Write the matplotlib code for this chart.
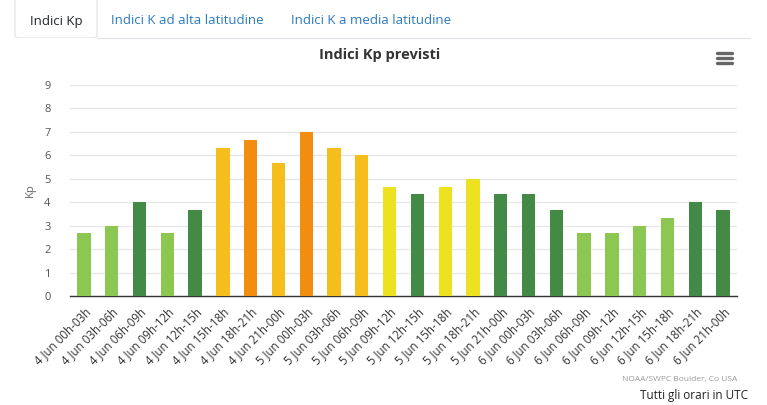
import matplotlib.pyplot as plt
import numpy as np
from matplotlib.patches import Rectangle, FancyBboxPatch
from matplotlib.lines import Line2D

plt.rcParams['font.family'] = ['Open Sans', 'DejaVu Sans']

# dati Kp previsti (3 ore)
intervalli = ['00h-03h', '03h-06h', '06h-09h', '09h-12h',
              '12h-15h', '15h-18h', '18h-21h', '21h-00h']
giorni = ['4 Jun', '5 Jun', '6 Jun']
etichette = [g + ' ' + i for g in giorni for i in intervalli]
kp = [2.67, 3.00, 4.00, 2.67, 3.67, 6.33, 6.67, 5.67,
      7.00, 6.33, 6.00, 4.67, 4.33, 4.67, 5.00, 4.33,
      4.33, 3.67, 2.67, 2.67, 3.00, 3.33, 4.00, 3.67]
tab_labels = ['Indici Kp', 'Indici K ad alta latitudine', 'Indici K a media latitudine']


def colore(v):
    if v < 3.5:
        return '#8cc751'
    if v < 4.5:
        return '#438a47'
    if v < 5.5:
        return '#ece21f'
    if v < 6.5:
        return '#f5be1c'
    return '#f28d10'


fig = plt.figure(figsize=(7.67, 4.05), dpi=100)
fig.patch.set_facecolor('white')

# tabs
W, H = 767.0, 405.0
fig.add_artist(FancyBboxPatch((15 / W, 1 - 38 / H), 82 / W, 40 / H, transform=fig.transFigure,
                              boxstyle='round,pad=0,rounding_size=0.006',
                              facecolor='white', edgecolor='#dee2e6', lw=0.8, clip_on=False))
fig.add_artist(Rectangle((14 / W, 1 - 39 / H), 84 / W, 1.5 / H, transform=fig.transFigure,
                         facecolor='white', edgecolor='none'))
fig.add_artist(Line2D([97 / W, 750 / W], [1 - 38 / H, 1 - 38 / H], transform=fig.transFigure,
                      color='#dee2e6', lw=0.8))
fig.text(56 / W, 1 - 21 / H, tab_labels[0], ha='center', va='center', fontsize=9.5, color='#212529')
fig.text(187 / W, 1 - 21 / H, tab_labels[1], ha='center', va='center', fontsize=9.5, color='#2a7ac0')
fig.text(371 / W, 1 - 21 / H, tab_labels[2], ha='center', va='center', fontsize=9.5, color='#2a7ac0')

ax = fig.add_axes([70 / W, 1 - 296 / H, 667 / W, 211 / H])
x = np.arange(len(kp))
bars = ax.bar(x, kp, width=0.48, color=[colore(v) for v in kp], zorder=3)
ax.set_xlim(-0.5, len(kp) - 0.5)
ax.set_ylim(0, 9)
ax.set_yticks(range(10))
ax.grid(axis='y', color='#e6e6e6', lw=0.9, zorder=0)
ax.set_xticks(x)
ax.set_xticklabels(etichette, rotation=45, ha='right', rotation_mode='anchor',
                   fontsize=8.3, color='#333333')
ax.tick_params(axis='x', length=0, pad=7)
ax.tick_params(axis='y', length=0, labelsize=8, labelcolor='#555555', pad=14)
for s in ['top', 'right', 'left']:
    ax.spines[s].set_visible(False)
ax.spines['bottom'].set_color('#333333')
ax.spines['bottom'].set_linewidth(1.0)
ax.set_ylabel('Kp', fontsize=8, color='#666666', labelpad=6)

fig.text(380 / W, 1 - 55 / H, 'Indici Kp previsti', ha='center', va='center',
         fontsize=10.5, fontweight='bold', color='#333333')

# menu icon
for dy in (-5, 0, 5):
    fig.add_artist(Line2D([717 / W, 732 / W], [1 - (58 + dy) / H] * 2,
                          transform=fig.transFigure, color='#666666', lw=2.4,
                          solid_capstyle='round'))

fig.text(737 / W, 1 - 379 / H, 'NOAA/SWPC Boulder, Co USA', ha='right', va='center',
         fontsize=6, color='#999999')
fig.text(748 / W, 1 - 396 / H, 'Tutti gli orari in UTC', ha='right', va='center',
         fontsize=8.5, color='#222222')

fig.savefig('out.png', dpi=100)
